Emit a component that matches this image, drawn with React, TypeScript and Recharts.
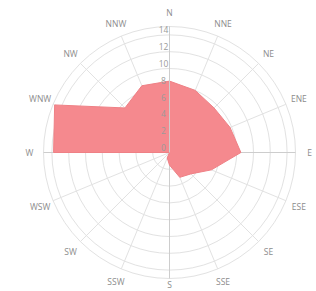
import React from 'react';
import { RadarChart, Radar, PolarGrid, PolarAngleAxis, PolarRadiusAxis } from 'recharts';

const directions = ['N', 'NNE', 'NE', 'ENE', 'E', 'ESE', 'SE', 'SSE', 'S', 'SSW', 'SW', 'WSW', 'W', 'WNW', 'NW', 'NNW'];
const frequency = [8.5, 8.0, 7.5, 7.8, 8.5, 5.4, 3.6, 3.2, 1.5, 0.7, 0, 0, 13.8, 14.8, 7.5, 8.6];
const radialTicks = [0, 2, 4, 6, 8, 10, 12, 14, 15];
const radialMax = 15;
const cardinalAngles = [90, 0, -90, 180];

const data = directions.map((d, i) => ({ dir: d, value: frequency[i] }));

const FONT = '"Open Sans", "Noto Sans", sans-serif';

const AngleTick = (props: any) => {
  const { x, y, payload } = props;
  const isBottom = payload.value === 'S';
  return (
    <text x={x} y={isBottom ? y - 8 : y} textAnchor="middle" dominantBaseline="central" fontSize={8.5} fill="#8c8c8c" fontFamily={FONT}>
      {payload.value}
    </text>
  );
};

const RadiusTick = (props: any) => {
  const { x, y, payload } = props;
  if (payload.value === radialMax) return <g />;
  return (
    <text x={x - 6} y={y - 5} textAnchor="middle" dominantBaseline="central" fontSize={8.5} fill="#9a9a9a" fontFamily={FONT}>
      {payload.value}
    </text>
  );
};

export default function App() {
  return (
    <div style={{ position: 'absolute', left: 0, top: 0, width: 316, height: 291, background: '#fff' }}>
      <RadarChart width={316} height={291} data={data} cx={169.5} cy={152.5} outerRadius={126} margin={{ top: 0, right: 0, bottom: 0, left: 0 }}>
        <PolarGrid gridType="circle" stroke="#e2e2e2" strokeWidth={1} />
        <PolarGrid gridType="circle" polarAngles={cardinalAngles} polarRadius={[]} stroke="#cdcdcd" strokeWidth={1} />
        <PolarAngleAxis dataKey="dir" tick={AngleTick} tickLine={false} axisLine={false} tickSize={14} />
        <Radar dataKey="value" fill="#F5898E" fillOpacity={1} stroke="#EF8085" strokeWidth={1} isAnimationActive={false} />
        <PolarRadiusAxis angle={90} domain={[0, radialMax]} ticks={radialTicks as any} tick={RadiusTick} axisLine={{ stroke: '#cdcdcd' }} tickLine={false} />
      </RadarChart>
    </div>
  );
}
